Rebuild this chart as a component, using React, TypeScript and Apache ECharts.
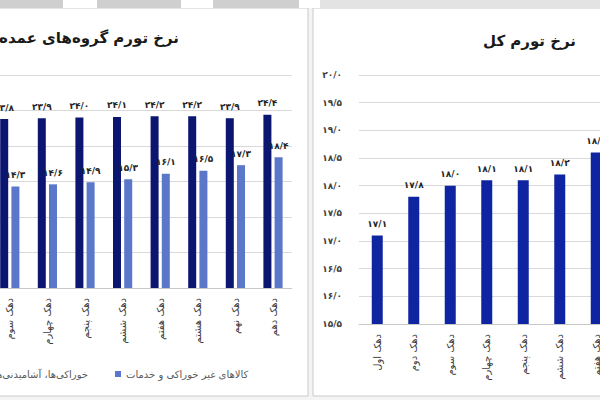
import React, { useEffect, useRef } from "react";
import * as echarts from "echarts";

// ---- data ----
const leftCategories = ["دهک سوم", "دهک چهارم", "دهک پنجم", "دهک ششم", "دهک هفتم", "دهک هشتم", "دهک نهم", "دهک دهم"];
const foodValues = [23.8, 23.9, 24.0, 24.1, 24.2, 24.2, 23.9, 24.4];
const nonFoodValues = [14.3, 14.6, 14.9, 15.3, 16.1, 16.5, 17.3, 18.4];
const foodName = "خوراکی‌ها، آشامیدنی‌ها و دخانیات";
const nonFoodName = "کالاهای غیر خوراکی و خدمات";
const leftTitle = "نرخ تورم گروه‌های عمده";

const rightCategories = ["دهک اول", "دهک دوم", "دهک سوم", "دهک چهارم", "دهک پنجم", "دهک ششم", "دهک هفتم"];
const totalValues = [17.1, 17.8, 18.0, 18.1, 18.1, 18.2, 18.6];
const rightTitle = "نرخ تورم کل";

const FONT = "DejaVu Sans";
const OX = 40; // chart div is shifted left by this amount
const CW = 680;
const CH = 400;

const fa = (s: string) => s.replace(/[0-9]/g, (d) => "۰۱۲۳۴۵۶۷۸۹"[Number(d)]);
const fmt = (v: number) => fa(v.toFixed(1).replace(".", "/"));

export default function App() {
  const ref = useRef<HTMLDivElement>(null);
  useEffect(() => {
    if (!ref.current) return;
    const chart = echarts.init(ref.current, undefined, { renderer: "svg" });
    const strip = [
      [0, 63, "#cfcfcf"],
      [63, 97, "#ffffff"],
      [97, 181, "#cfcfcf"],
      [181, 213, "#ffffff"],
      [213, 299, "#cfcfcf"],
      [299, 320, "#ffffff"],
      [320, 600, "#e3e3e3"],
    ] as [number, number, string][];
    const graphics: any[] = [
      { type: "rect", z: -10, shape: { x: 0, y: 0, width: CW, height: CH }, style: { fill: "#f4f4f4" } },
      { type: "rect", z: -9, shape: { x: OX - 10, y: 8, width: 318, height: 388 }, style: { fill: "#ffffff", stroke: "#cacaca", lineWidth: 1 } },
      { type: "rect", z: -9, shape: { x: OX + 313, y: 8, width: 320, height: 388 }, style: { fill: "#ffffff", stroke: "#cacaca", lineWidth: 1 } },
      ...strip.map(([a, b, c]) => ({ type: "rect", z: -8, shape: { x: OX + a, y: 0, width: b - a, height: 8 }, style: { fill: c } })),
    ];
    const labelStyle = {
      show: true,
      position: "top",
      distance: 7,
      fontSize: 9,
      fontWeight: "bold",
      color: "#262626",
      fontFamily: FONT,
      formatter: (p: any) => fmt(p.value),
    };
    const catAxisCommon = {
      type: "category",
      axisTick: { show: false },
      axisLine: { show: true, lineStyle: { color: "#c8c8c8" } },
      axisLabel: { rotate: 90, fontSize: 10, color: "#404040", margin: 10, fontFamily: FONT },
    };
    const legendCommon = {
      icon: "rect",
      itemWidth: 6,
      itemHeight: 6,
      padding: 0,
      top: 369,
      textStyle: { fontSize: 10, color: "#595959", fontFamily: FONT },
    };
    chart.setOption({
      animation: false,
      textStyle: { fontFamily: FONT },
      title: [
        { text: leftTitle, padding: 0, right: CW - (OX + 179), top: 30, textStyle: { fontSize: 15, fontWeight: "bold", color: "#1a1a1a", fontFamily: FONT } },
        { text: rightTitle, padding: 0, right: CW - (OX + 576), top: 33, textStyle: { fontSize: 15, fontWeight: "bold", color: "#1a1a1a", fontFamily: FONT } },
      ],
      legend: [
        { ...legendCommon, data: [foodName], right: CW - (OX + 88) },
        { ...legendCommon, data: [nonFoodName], left: OX + 115 },
      ],
      grid: [
        { left: OX - 9, top: 75, width: 300.8, height: 213 },
        { left: OX + 359, top: 75, width: 255.5, height: 249 },
      ],
      xAxis: [
        { ...catAxisCommon, gridIndex: 0, data: leftCategories },
        { ...catAxisCommon, gridIndex: 1, data: rightCategories },
      ],
      yAxis: [
        {
          type: "value",
          gridIndex: 0,
          min: 0,
          max: 30,
          interval: 5,
          axisLabel: { show: false },
          axisLine: { show: false },
          axisTick: { show: false },
          splitLine: { lineStyle: { color: "#d9d9d9" } },
        },
        {
          type: "value",
          gridIndex: 1,
          min: 15.5,
          max: 20,
          interval: 0.5,
          axisLabel: { fontSize: 9, fontWeight: "bold", color: "#404040", margin: 17, fontFamily: FONT, formatter: (v: number) => fmt(v) },
          axisLine: { show: false },
          axisTick: { show: false },
          splitLine: { lineStyle: { color: "#d9d9d9" } },
        },
      ],
      series: [
        {
          name: foodName,
          type: "bar",
          xAxisIndex: 0,
          yAxisIndex: 0,
          data: foodValues,
          barWidth: 8,
          barGap: "40%",
          itemStyle: { color: "#0b1670" },
          label: labelStyle,
        },
        {
          name: nonFoodName,
          type: "bar",
          xAxisIndex: 0,
          yAxisIndex: 0,
          data: nonFoodValues,
          barWidth: 8,
          barGap: "40%",
          itemStyle: { color: "#5a77c9" },
          label: labelStyle,
        },
        {
          name: rightTitle,
          type: "bar",
          xAxisIndex: 1,
          yAxisIndex: 1,
          data: totalValues,
          barWidth: 11,
          itemStyle: { color: "#0f24a0" },
          label: labelStyle,
        },
      ],
      graphic: graphics,
    });
    return () => chart.dispose();
  }, []);
  return (
    <div style={{ position: "fixed", left: 0, top: 0, width: 600, height: 400, overflow: "hidden", background: "#fff" }}>
      <div ref={ref} style={{ position: "absolute", left: -OX, top: 0, width: CW, height: CH }} />
    </div>
  );
}
